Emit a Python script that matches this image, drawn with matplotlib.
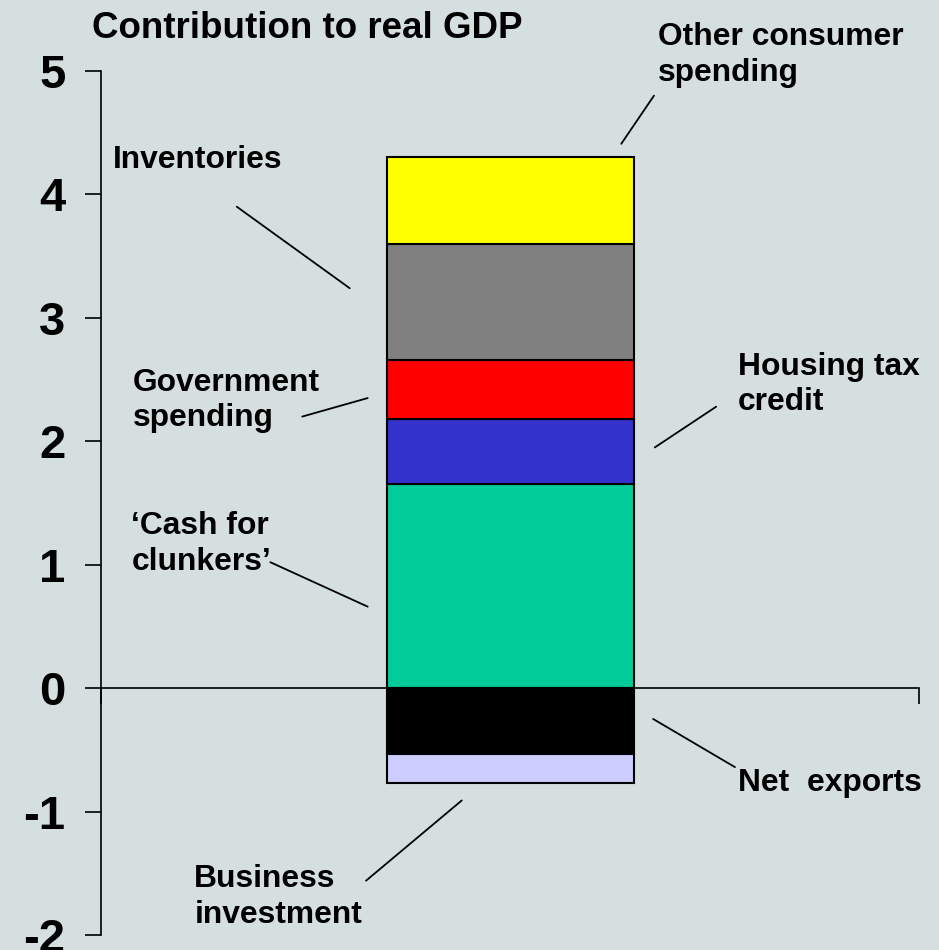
import numpy as np
import matplotlib
matplotlib.use("Agg")
import matplotlib.pyplot as plt

# contributions to real GDP (percentage points), bottom-to-top stacking order
components = ["\u2018Cash for clunkers\u2019", "Housing tax credit", "Government spending",
              "Inventories", "Other consumer spending", "Net exports", "Business investment"]
contrib = [1.65, 0.53, 0.48, 0.94, 0.70, -0.53, -0.24]
colors = ["#00CC99", "#3333CC", "#FF0000", "#808080", "#FFFF00", "#000000", "#CCCCFF"]

y_ticks = [-2, -1, 0, 1, 2, 3, 4, 5]

# label text, text anchor (x, y), leader line start, leader line end  (data coords)
labels = [
    ("Other consumer\nspending", (0.181, 5.13), (0.136, 4.41), (0.176, 4.80)),
    ("Inventories", (-0.485, 4.28), (-0.334, 3.90), (-0.196, 3.24)),
    ("Government\nspending", (-0.461, 2.33), (-0.254, 2.20), (-0.174, 2.35)),
    ("Housing tax\ncredit", (0.279, 2.46), (0.177, 1.95), (0.252, 2.28)),
    ("\u2018Cash for\nclunkers\u2019", (-0.463, 1.17), (-0.293, 1.02), (-0.174, 0.66)),
    ("Net  exports", (0.279, -0.77), (0.175, -0.25), (0.275, -0.64)),
    ("Business\ninvestment", (-0.386, -1.69), (-0.176, -1.56), (-0.059, -0.91)),
]

plt.rcParams['font.family'] = ['Liberation Sans', 'DejaVu Sans']
bg = "#D6DFDF"

fig = plt.figure(figsize=(9.39, 9.5), dpi=100, facecolor=bg)
ax = fig.add_axes([0.1076, 0.0158, 0.8711, 0.9095])
ax.set_facecolor(bg)

# stacked single bar: positives upward from 0, negatives downward from 0
pos_base = 0.0
neg_base = 0.0
for name, val, col in zip(components, contrib, colors):
    if val >= 0:
        ax.bar(0, val, bottom=pos_base, width=0.302, color=col, edgecolor="black", linewidth=1.5, zorder=3)
        pos_base += val
    else:
        ax.bar(0, val, bottom=neg_base, width=0.302, color=col, edgecolor="black", linewidth=1.5, zorder=3)
        neg_base += val

ax.set_xlim(-0.5, 0.5)
ax.set_ylim(-2, 5)

ax.spines['top'].set_visible(False)
ax.spines['right'].set_visible(False)
ax.spines['bottom'].set_position(('data', 0))
ax.spines['left'].set_linewidth(1.2)
ax.spines['bottom'].set_linewidth(1.2)
ax.spines['bottom'].set_zorder(2)

ax.set_yticks(y_ticks)
ax.set_yticklabels([str(t) for t in y_ticks], fontsize=34, fontweight='bold')
ax.tick_params(axis='y', direction='out', length=11.5, width=1.2, pad=14)
ax.set_xticks([-0.5, 0.5])
ax.set_xticklabels(["", ""])
ax.tick_params(axis='x', direction='out', length=11.5, width=1.2)

for text, (tx, ty), (x0, y0), (x1, y1) in labels:
    ax.text(tx, ty, text, fontsize=22.9, fontweight='bold', ha='left', va='center',
            multialignment='left', linespacing=1.25, clip_on=False, zorder=4)
    ax.annotate("", xy=(x1, y1), xytext=(x0, y0),
                arrowprops=dict(arrowstyle='-', lw=1.3, color='black', shrinkA=0, shrinkB=0),
                annotation_clip=False, zorder=4)

fig.text(0.098, 0.9705, "Contribution to real GDP", fontsize=26.5, fontweight='bold',
         ha='left', va='center')

fig.savefig("out.png", dpi=100, facecolor=bg)
